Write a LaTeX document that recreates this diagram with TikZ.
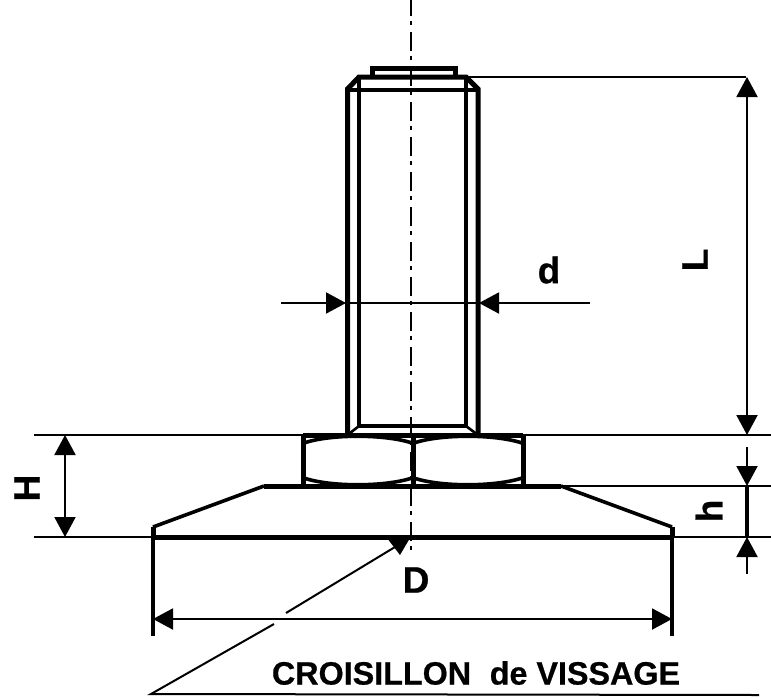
\documentclass[tikz,border=0pt]{standalone}
\usepackage{fontspec}
\setmainfont{Liberation Sans}[BoldFeatures={FakeBold=0.6}]
\usetikzlibrary{positioning,arrows.meta}

\begin{document}
\begin{tikzpicture}[
		x=1pt,y=-1pt,
		heavy/.style={line width=5pt,line join=miter},
		medium/.style={line width=3.6pt},
		thinline/.style={line width=2.6pt},
		dimline/.style={line width=2pt},
		tipped/.style={dimline,-{Triangle[length=20pt,width=21pt]}},
		twotipped/.style={dimline,{Triangle[length=20pt,width=21pt]}-{Triangle[length=20pt,width=21pt]}},
		axisline/.style={line width=2.4pt,dash pattern=on 19pt off 5pt on 4pt off 7pt,dash phase=3pt},
		dimlabel/.style={font=\bfseries\fontsize{37}{37}\selectfont,inner sep=0pt},
		]
		\useasboundingbox (0,0) rectangle (771,697);

		%% stud
		\coordinate (s1) at (347.5,435);
		\coordinate (s2) at (347.5,89);
		\coordinate (s3) at (359,77);
		\coordinate (s4) at (466,77);
		\coordinate (s5) at (478,89);
		\coordinate (s6) at (478,435);
		\draw[heavy] (s1) -- (s2) -- (s3) -- (s4) -- (s5) -- (s6);
		\draw[medium] (346,90) -- (479,90);
		\draw[medium] (s3) -- (359,426) -- (466,426) -- (s4);
		\draw[thinline] (359,426) -- (s1);
		\draw[thinline] (466,426) -- (s6);
		% top cap
		\draw[heavy] (372,77) -- (372,68) -- (455,68) -- (455,77);

		%% nut
		\coordinate (n1) at (303,435);
		\coordinate (n2) at (413,435);
		\coordinate (n3) at (523,435);
		\coordinate (n4) at (303,486);
		\coordinate (n5) at (413,486);
		\coordinate (n6) at (523,486);
		\draw[heavy] (n1) -- (n3);
		\draw[heavy] (n1) -- (n4);
		\draw[heavy] (n2) -- (n5);
		\draw[heavy] (n3) -- (n6);
		\draw[medium] (304,443) .. controls (330,434) and (385,434) .. (412,443);
		\draw[medium] (414,443) .. controls (440,434) and (495,434) .. (522,443);
		\draw[medium] (304,478) .. controls (330,487) and (385,487) .. (412,478);
		\draw[medium] (414,478) .. controls (440,487) and (495,487) .. (522,478);

		%% base plate
		\coordinate (b1) at (153,537);
		\coordinate (b2) at (153,527);
		\coordinate (b3) at (264,486);
		\coordinate (b4) at (561,486);
		\coordinate (b5) at (672,527);
		\coordinate (b6) at (672,537);
		\draw[heavy] (b3) -- (b4);
		\draw[medium] (b2) -- (b3);
		\draw[medium] (b4) -- (b5);
		\draw[heavy] (b1) -- (b2);
		\draw[heavy] (b5) -- (b6);
		\draw[line width=5pt] (151,537.5) -- (674,537.5);

		%% extension lines
		\draw[thinline] (34,435) -- (n1);
		\draw[thinline] (n3) -- (771,435);
		\draw[thinline] (s4) -- (746,77);
		\draw[thinline] (b4) -- (771,486);
		\draw[thinline] (34,537) -- (b1);
		\draw[thinline] (b6) -- (771,537);
		\draw[medium] (b1) -- (153,636);
		\draw[medium] (b6) -- (672,636);

		%% axis
		\coordinate (a1) at (411,0);
		\coordinate (a2) at (411,556);
		\draw[axisline] (a1) -- (a2);

		%% dimensions
		\coordinate (l1) at (747,77);
		\coordinate (l2) at (747,435);
		\draw[twotipped] (l1) -- (l2);
		\node[dimlabel,rotate=90] (labelL) at (695,260) {L};

		\coordinate (h1) at (747,447);
		\coordinate (h2) at (747,486);
		\coordinate (h3) at (747,537);
		\coordinate (h4) at (747,574);
		\draw[tipped] (h1) -- (h2);
		\draw[tipped] (h4) -- (h3);
		\draw[medium] (h2) -- (h3);
		\node[dimlabel,rotate=90] (labelh) at (709,511) {h};

		\coordinate (hh1) at (65,435);
		\coordinate (hh2) at (65,537);
		\draw[twotipped] (hh1) -- (hh2);
		\node[dimlabel,rotate=90] (labelH) at (27,488) {H};

		\coordinate (d1) at (281,303);
		\coordinate (d2) at (346,303);
		\coordinate (d3) at (479,303);
		\coordinate (d4) at (590,303);
		\draw[tipped] (d1) -- (d2);
		\draw[tipped] (d4) -- (d3);
		\draw[dimline] (d2) -- (d3);
		\node[dimlabel] (labeld) at (549,270) {d};

		\coordinate (w1) at (153,619);
		\coordinate (w2) at (672,619);
		\draw[twotipped] (w1) -- (w2);
		\node[dimlabel] (labelD) at (416,580) {D};

		%% leader
		\coordinate (c1) at (151,694);
		\coordinate (c2) at (274,624);
		\coordinate (c3) at (286,613);
		\coordinate (c4) at (395,547);
		\coordinate (c5) at (759,695);
		\fill (387,538) -- (410,538) -- (400,555) -- cycle;
		\draw[dimline] (c5) -- (c1) -- (c2);
		\draw[dimline] (c3) -- (c4);
		\node[font=\bfseries\fontsize{32.3}{32.3}\selectfont,inner sep=0pt] (labelC) at (476,673) {CROISILLON\hspace{0.3em} de VISSAGE};
\end{tikzpicture}
\end{document}
